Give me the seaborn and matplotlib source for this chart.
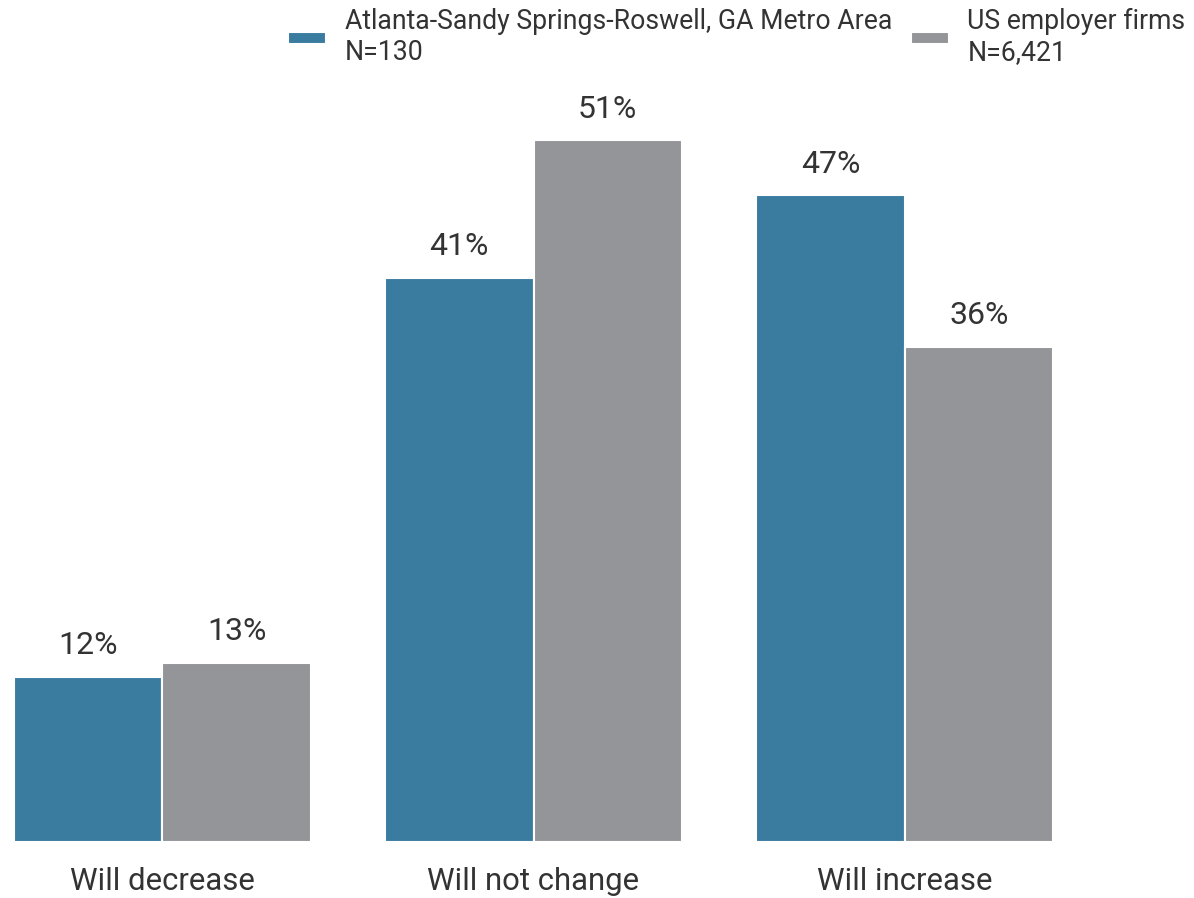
import matplotlib
matplotlib.use("Agg")
import matplotlib.pyplot as plt
import seaborn as sns
import pandas as pd

categories = ["Will decrease", "Will not change", "Will increase"]
series_names = ["Atlanta-Sandy Springs-Roswell, GA Metro Area\nN=130", "US employer firms\nN=6,421"]
atlanta = [12, 41, 47]
us = [13, 51, 36]
colors = ["#3a7ca0", "#949599"]

df = pd.DataFrame({
    "category": categories * 2,
    "series": [series_names[0]] * 3 + [series_names[1]] * 3,
    "value": atlanta + us,
})

sns.set_theme(style="white")
plt.rcParams["font.family"] = ["Roboto", "DejaVu Sans"]

fig = plt.figure(figsize=(11.94, 8.98), dpi=100)
ax = fig.add_axes([14/1194, 56/898, 1039/1194, 772/898])

sns.barplot(data=df, x="category", y="value", hue="series", order=categories,
            hue_order=series_names, palette=colors, width=0.8, ax=ax,
            edgecolor="white", linewidth=1.5, saturation=1, legend=True)

for cont in ax.containers:
    ax.bar_label(cont, labels=[f"{v:.0f}%" for v in cont.datavalues],
                 padding=12, fontsize=23, color="#333333")

ax.set_xlim(-0.4, 2.4)
ax.set_ylim(0, 772/13.76)
ax.set_xlabel("")
ax.set_ylabel("")
ax.set_yticks([])
ax.tick_params(axis="x", labelsize=22.4, colors="#333333", length=0, pad=18)
for s in ax.spines.values():
    s.set_visible(False)

handles, labels = ax.get_legend_handles_labels()
ax.get_legend().remove()
fig.legend(handles, labels, loc="upper right", bbox_to_anchor=(1.004, 1.006),
           ncol=2, frameon=False, fontsize=19.2, handlelength=1.42,
           handleheight=0.37, handletextpad=0.7, columnspacing=0.7,
           borderaxespad=0.1, labelcolor="#333333")

fig.savefig("out.png", dpi=100)
